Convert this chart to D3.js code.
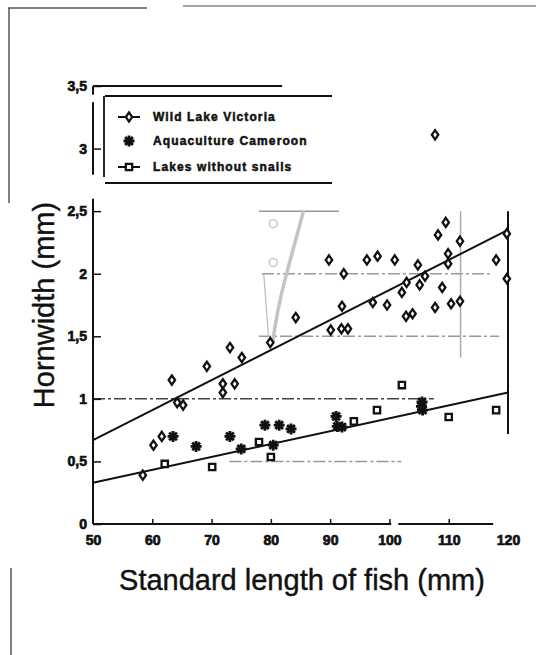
<!DOCTYPE html>
<meta charset="utf-8">
<script src="https://d3js.org/d3.v7.min.js"></script>
<style>
  body { margin: 0; background: #fff; }
  text { font-family: "Liberation Sans", Arial, sans-serif; }
</style>
<div id="chart"></div>
<script>

// data: [standard length (mm), hornwidth (mm)]
const wildVictoria = [
  [58.4,0.39],[60.2,0.63],[61.6,0.70],[63.3,1.15],[64.2,0.97],[65.2,0.95],
  [69.2,1.26],[71.9,1.12],[71.9,1.05],[73.1,1.41],[73.9,1.12],[75.1,1.33],
  [79.9,1.45],[84.2,1.65],[89.8,2.11],[90.1,1.55],[91.9,1.56],[92.0,1.74],
  [92.3,2.00],[93.0,1.56],[96.2,2.11],[97.2,1.77],[98.0,2.14],[99.6,1.75],
  [100.9,2.11],[102.1,1.85],[102.8,1.66],[102.9,1.93],[103.9,1.68],[104.8,2.07],
  [105.1,1.91],[106.0,1.98],[107.7,1.73],[107.7,3.11],[108.2,2.31],[108.9,1.89],
  [109.5,2.41],[109.9,2.16],[109.9,2.08],[110.4,1.76],[111.9,2.26],[111.9,1.78],
  [118.0,2.11],[119.8,2.32],[119.8,1.96]
];
const aquaCameroon = [
  [63.5,0.70],[67.4,0.62],[73.1,0.70],[75.0,0.60],[79.0,0.79],[80.4,0.63],
  [81.4,0.79],[83.4,0.76],[91.0,0.86],[91.2,0.78],[92.0,0.775],
  [105.5,0.975],[105.4,0.94],[105.6,0.91]
];
const noSnails = [
  [62.1,0.48],[70.1,0.455],[78.0,0.655],[80.0,0.535],[94.0,0.82],
  [97.9,0.91],[102.1,1.11],[110.0,0.855],[118.0,0.91]
];

// fitted lines, as drawn: [x, y] at both ends
const fitWild = [[50,0.67],[120,2.35]];
const fitLower = [[50,0.33],[120,1.05]];

const legendLabels = ["Wild Lake Victoria", "Aquaculture Cameroon", "Lakes without snails"];
const xTicks = [50,60,70,80,90,100,110,120];
const yTicks = [0,0.5,1,1.5,2,2.5,3,3.5];

// faint dash-dot guide lines left in the scan: [y, xFrom, xTo]
const guides = [[2.5,78,91.5],[2.0,78.5,117],[1.5,78,118.5],[1.0,50,107.5],[0.5,73,102]];

const W = 536, H = 655;
const margin = {top: 86, right: 28, bottom: 131, left: 93};
const width = W - margin.left - margin.right,
      height = H - margin.top - margin.bottom;

const svg = d3.select("#chart").append("svg")
    .attr("width", W).attr("height", H);

// scan frame remnants
svg.append("g").attr("stroke-width", 1.5)
  .selectAll("line")
  .data([[8,8,147,8],[183,6,536,6],[9,8,9,203],[11,568,11,655]])
  .join("line")
    .attr("x1", d => d[0]).attr("y1", d => d[1])
    .attr("x2", d => d[2]).attr("y2", d => d[3])
    .attr("stroke", (d, i) => i == 1 ? "#888" : "#555");

const g = svg.append("g")
    .attr("transform", `translate(${margin.left},${margin.top})`);

const x = d3.scaleLinear().domain([50, 120]).range([0, width]);
const y = d3.scaleLinear().domain([0, 3.5]).range([height, 0]);

const locale = d3.formatLocale({decimal: ",", thousands: ".", grouping: [3], currency: ["", ""]});
const fmt = locale.format("~g");

// guides
g.append("g").selectAll("line")
  .data(guides)
  .join("line")
    .attr("x1", d => x(d[1])).attr("x2", d => x(d[2]))
    .attr("y1", d => y(d[0])).attr("y2", d => y(d[0]))
    .attr("stroke", (d, i) => i == 3 ? "#444" : "#999")
    .attr("stroke-width", 1.5)
    .attr("stroke-dasharray", (d, i) => i == 0 ? null : "12,3,3,3");

// bleed-through smudge from the other page
g.append("path")
  .attr("d", d3.line().curve(d3.curveBasis).x(d => x(d[0])).y(d => y(d[1]))(
    [[85.5,2.5],[83.5,2.15],[81.5,1.8],[80.6,1.55],[80.3,1.45]]))
  .attr("fill", "none").attr("stroke", "#c4c4c4").attr("stroke-width", 3.5);
g.append("path")
  .attr("d", d3.line().x(d => x(d[0])).y(d => y(d[1]))([[78.8,2.0],[79.6,1.5]]))
  .attr("fill", "none").attr("stroke", "#bbb").attr("stroke-width", 1.2);
g.append("g").selectAll("circle")
  .data([[80.4,2.40],[80.4,2.09]])
  .join("circle")
    .attr("cx", d => x(d[0])).attr("cy", d => y(d[1])).attr("r", 4)
    .attr("fill", "none").attr("stroke", "#c8c8c8").attr("stroke-width", 1.5);

// grey vertical at 112
g.append("line")
  .attr("x1", x(112)).attr("x2", x(112))
  .attr("y1", y(2.5)).attr("y2", y(1.33))
  .attr("stroke", "#aaa").attr("stroke-width", 1.5);

// axes
const yAxis = g.append("g")
  .call(d3.axisLeft(y).tickValues(yTicks).tickFormat(fmt).tickSize(-8).tickPadding(6))
  .call(a => a.select(".domain").remove());
yAxis.selectAll("line").attr("stroke", "#111").attr("stroke-width", 1.5);
yAxis.selectAll("text")
  .attr("font-size", 14).attr("font-weight", "bold").attr("fill", "#111")
  .attr("stroke", "#111").attr("stroke-width", 0.7);

const xAxis = g.append("g")
  .attr("transform", `translate(0,${height})`)
  .call(d3.axisBottom(x).tickValues(xTicks).tickSize(-5).tickPadding(11))
  .call(a => a.select(".domain").remove());
xAxis.selectAll("line").attr("stroke", "#111").attr("stroke-width", 1.5);
xAxis.selectAll(".tick").filter(d => d == 50 || d == 120).select("line").remove();
xAxis.selectAll("text")
  .attr("font-size", 14).attr("font-weight", "bold").attr("fill", "#111")
  .attr("stroke", "#111").attr("stroke-width", 0.7);

// broken axis lines
const axisSegs = [
  [[50,0],[50,2.6]], [[50,2.79],[50,3.37]], [[50,3.43],[50,3.5]],
  [[50,3.5],[81.9,3.5]],
  [[50,0],[100.3,0]], [[101.5,0],[117.5,0]],
  [[120,2.5],[120,0.72]]
];
g.append("g").selectAll("line")
  .data(axisSegs)
  .join("line")
    .attr("x1", d => x(d[0][0])).attr("y1", d => y(d[0][1]))
    .attr("x2", d => x(d[1][0])).attr("y2", d => y(d[1][1]))
    .attr("stroke", "#111").attr("stroke-width", 2);

// fitted lines
[fitWild, fitLower].forEach(f => {
  g.append("line")
    .attr("x1", x(f[0][0])).attr("y1", y(f[0][1]))
    .attr("x2", x(f[1][0])).attr("y2", y(f[1][1]))
    .attr("stroke", "#111").attr("stroke-width", 2);
});

// marker shapes
function diamondPath(hw, hh) {
  const p = d3.path();
  p.moveTo(0, -hh); p.lineTo(hw, 0); p.lineTo(0, hh); p.lineTo(-hw, 0); p.closePath();
  return p.toString();
}
const diamond = diamondPath(3.2, 4.6);
const square = d3.symbol().type(d3.symbolSquare).size(40)();
function asterisk(r) {
  const p = d3.path();
  for (let k = 0; k < 4; k++) {
    const a = k * Math.PI / 4;
    p.moveTo(-r * Math.cos(a), -r * Math.sin(a));
    p.lineTo(r * Math.cos(a), r * Math.sin(a));
  }
  return p.toString();
}
const star = asterisk(5.5);

function drawMarks(data, shape, cls) {
  g.append("g").selectAll("path." + cls)
    .data(data)
    .join("path")
      .attr("class", cls)
      .attr("transform", d => `translate(${x(d[0])},${y(d[1])})`)
      .attr("d", shape)
      .attr("fill", cls == "star" ? "none" : "#fff")
      .attr("stroke", "#111")
      .attr("stroke-width", cls == "star" ? 2.8 : 2.3);
}
drawMarks(noSnails, square, "sq");
drawMarks(aquaCameroon, star, "star");
drawMarks(wildVictoria, diamond, "dia");

// legend box (open on the right)
const lg = svg.append("g");
lg.selectAll("line")
  .data([[105,96,332,96],[105,183,332,183],[104,96,104,177]])
  .join("line")
    .attr("x1", d => d[0]).attr("y1", d => d[1])
    .attr("x2", d => d[2]).attr("y2", d => d[3])
    .attr("stroke", "#111").attr("stroke-width", 1.8);

const legendY = [117, 141, 167];
const legendShapes = [diamond, star, square];
legendLabels.forEach((lab, i) => {
  const row = lg.append("g").attr("transform", `translate(0,${legendY[i]})`);
  if (i != 1) {
    row.append("line").attr("x1", 118).attr("x2", 140)
      .attr("stroke", "#111").attr("stroke-width", 2);
  }
  row.append("path")
    .attr("transform", "translate(129,0)")
    .attr("d", legendShapes[i])
    .attr("fill", i == 1 ? "none" : "#fff")
    .attr("stroke", "#111").attr("stroke-width", i == 1 ? 2.8 : 2.3);
  row.append("text")
    .attr("x", 153).attr("dy", "0.36em")
    .attr("font-size", 12).attr("font-weight", "bold")
    .attr("letter-spacing", 1.1).attr("fill", "#111")
    .attr("stroke", "#111").attr("stroke-width", 0.5)
    .text(lab);
});

// axis titles
svg.append("text")
  .attr("x", 302).attr("y", 590)
  .attr("text-anchor", "middle")
  .attr("font-size", 29).attr("fill", "#111")
  .attr("stroke", "#111").attr("stroke-width", 0.4)
  .text("Standard length of fish (mm)");

svg.append("text")
  .attr("transform", "translate(54,305) rotate(-90)")
  .attr("text-anchor", "middle")
  .attr("font-size", 29).attr("fill", "#111")
  .attr("stroke", "#111").attr("stroke-width", 0.4)
  .text("Hornwidth (mm)");

</script>
